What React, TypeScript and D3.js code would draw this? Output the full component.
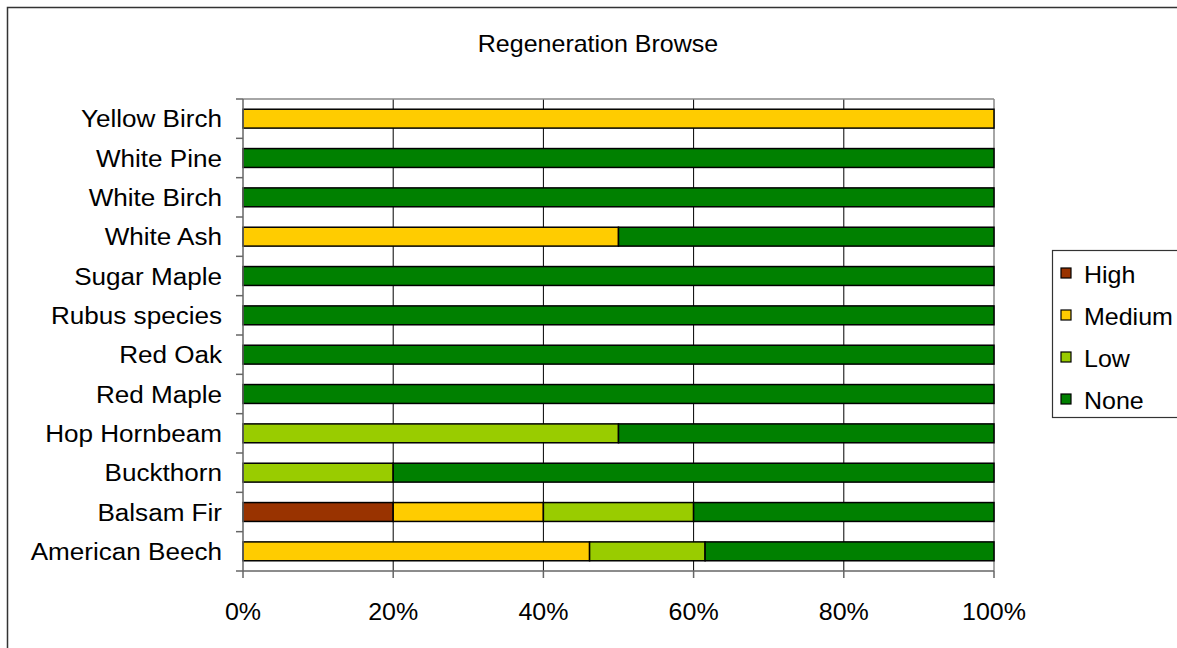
import React from "react";
import * as d3 from "d3";

// Species, listed bottom to top as they appear on the axis
const species = [
  "American Beech",
  "Balsam Fir",
  "Buckthorn",
  "Hop Hornbeam",
  "Red Maple",
  "Red Oak",
  "Rubus species",
  "Sugar Maple",
  "White Ash",
  "White Birch",
  "White Pine",
  "Yellow Birch",
];

// Share of stems in each browse class (%)
const high = [0, 20, 0, 0, 0, 0, 0, 0, 0, 0, 0, 0];
const medium = [46.15, 20, 0, 0, 0, 0, 0, 0, 50, 0, 0, 100];
const low = [15.38, 20, 20, 50, 0, 0, 0, 0, 0, 0, 0, 0];
const none = [38.47, 40, 80, 50, 100, 100, 100, 100, 50, 100, 100, 0];

const classes = ["High", "Medium", "Low", "None"];
const classColors = ["#993300", "#FFCC00", "#99CC00", "#008000"];

const xTicks = [0, 20, 40, 60, 80, 100];

const W = 1177;
const H = 648;
const plot = { left: 243, right: 994, top: 99, bottom: 571 };
const SX = 1.087; // horizontal text stretch
const FONT = "'Liberation Sans', Arial, sans-serif";

function SText({ x, y, anchor, size, children }: any) {
  return (
    <text
      transform={`translate(${x},${y}) scale(${SX},1)`}
      textAnchor={anchor}
      fontSize={size}
      fontFamily={FONT}
      fill="#000"
    >
      {children}
    </text>
  );
}

export default function App() {
  const rows = species.map((s, i) => ({
    species: s,
    High: high[i],
    Medium: medium[i],
    Low: low[i],
    None: none[i],
  }));
  const stacked = d3.stack<any>().keys(classes)(rows);

  const x = d3.scaleLinear().domain([0, 100]).range([plot.left, plot.right]);
  const y = d3
    .scaleBand()
    .domain([...species].reverse())
    .range([plot.top, plot.bottom])
    .paddingInner(0.52)
    .paddingOuter(0.26);
  const band = d3
    .scaleBand()
    .domain([...species].reverse())
    .range([plot.top, plot.bottom]);

  const boundaries = d3.range(species.length + 1).map(
    (i) => plot.top + (i * (plot.bottom - plot.top)) / species.length
  );

  return (
    <svg
      width={W}
      height={H}
      style={{ position: "absolute", left: 0, top: 0, background: "#fff" }}
    >
      {/* chart frame */}
      <rect x={7.5} y={7.5} width={W + 20} height={H + 20} fill="#fff" stroke="#333" strokeWidth={1.5} />

      <SText x={598} y={52} anchor="middle" size={23}>
        Regeneration Browse
      </SText>

      {/* gridlines */}
      {xTicks.slice(1, -1).map((t) => (
        <line key={t} x1={x(t)} x2={x(t)} y1={plot.top} y2={plot.bottom} stroke="#000" strokeWidth={1} />
      ))}

      {/* plot border */}
      <line x1={plot.left} x2={plot.right} y1={plot.top} y2={plot.top} stroke="#888" strokeWidth={1.5} />
      <line x1={plot.right} x2={plot.right} y1={plot.top} y2={plot.bottom} stroke="#888" strokeWidth={1.5} />

      {/* bars */}
      {stacked.map((layer, li) => (
        <g key={layer.key}>
          {layer.map((d, i) =>
            d[1] - d[0] > 0 ? (
              <rect
                key={i}
                x={x(d[0])}
                width={x(d[1]) - x(d[0])}
                y={y(species[i])}
                height={y.bandwidth()}
                fill={classColors[li]}
                stroke="#000"
                strokeWidth={1.5}
              />
            ) : null
          )}
        </g>
      ))}

      {/* axes */}
      <line x1={plot.left} x2={plot.left} y1={plot.top} y2={plot.bottom} stroke="#666" strokeWidth={1.5} />
      <line x1={plot.left} x2={plot.right} y1={plot.bottom} y2={plot.bottom} stroke="#666" strokeWidth={1.5} />
      {boundaries.map((b, i) => (
        <line key={i} x1={plot.left - 7} x2={plot.left} y1={b} y2={b} stroke="#666" strokeWidth={1.5} />
      ))}
      {xTicks.map((t) => (
        <line key={t} x1={x(t)} x2={x(t)} y1={plot.bottom} y2={plot.bottom + 7} stroke="#666" strokeWidth={1.5} />
      ))}

      {/* category labels */}
      {species.map((s) => (
        <SText key={s} x={222} y={(band(s) as number) + band.bandwidth() / 2 + 8.5} anchor="end" size={24}>
          {s}
        </SText>
      ))}

      {/* tick labels */}
      {xTicks.map((t) => (
        <SText key={t} x={x(t)} y={620} anchor="middle" size={23}>
          {`${t}%`}
        </SText>
      ))}

      {/* legend */}
      <rect x={1052.5} y={250.5} width={150} height={167} fill="#fff" stroke="#333" strokeWidth={1.2} />
      {classes.map((c, i) => {
        const cy = 273 + i * 42;
        return (
          <g key={c}>
            <rect x={1061} y={cy - 5} width={10} height={10} fill={classColors[i]} stroke="#000" strokeWidth={1.2} />
            <SText x={1084} y={cy + 9.5} anchor="start" size={23}>
              {c}
            </SText>
          </g>
        );
      })}
    </svg>
  );
}
